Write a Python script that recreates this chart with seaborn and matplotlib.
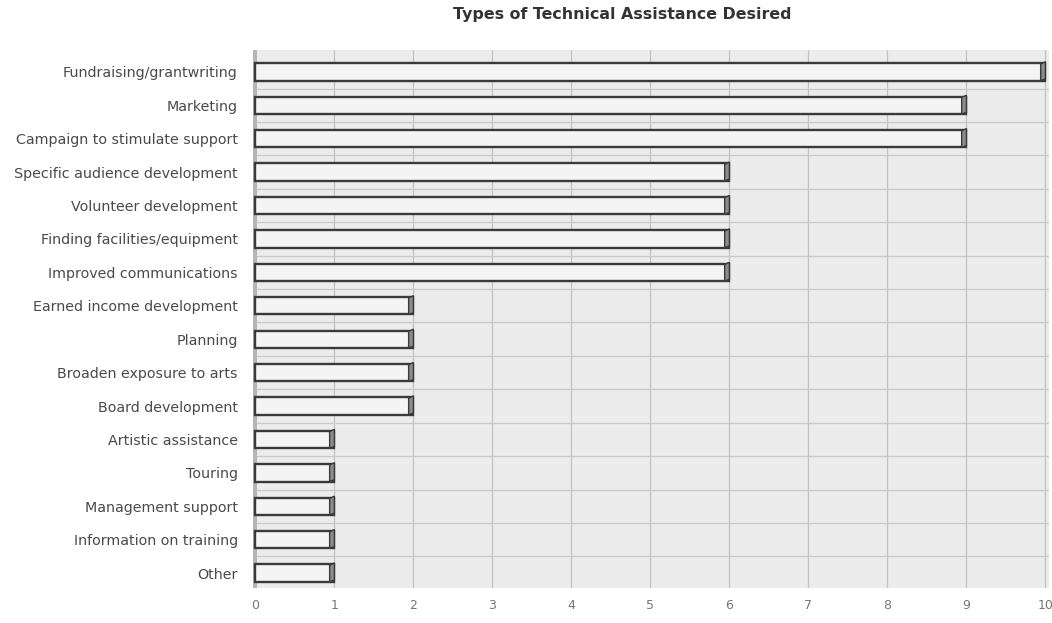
import matplotlib
matplotlib.use("Agg")
import matplotlib.pyplot as plt
import seaborn as sns
import pandas as pd
from matplotlib.patches import Polygon

categories = [
    "Fundraising/grantwriting",
    "Marketing",
    "Campaign to stimulate support",
    "Specific audience development",
    "Volunteer development",
    "Finding facilities/equipment",
    "Improved communications",
    "Earned income development",
    "Planning",
    "Broaden exposure to arts",
    "Board development",
    "Artistic assistance",
    "Touring",
    "Management support",
    "Information on training",
    "Other",
]
counts = [10, 9, 9, 6, 6, 6, 6, 2, 2, 2, 2, 1, 1, 1, 1, 1]
x_ticks = [0, 1, 2, 3, 4, 5, 6, 7, 8, 9, 10]

df = pd.DataFrame({"category": categories, "count": counts})

sns.set_style("white")
plt.rcParams["font.family"] = ["DejaVu Sans"]

fig = plt.figure(figsize=(10.52, 6.23), dpi=100)
ax = fig.add_axes([0.2405, 0.056, 0.757, 0.864])
ax.set_facecolor("#ececec")

sns.barplot(data=df, y="category", x="count", orient="h", order=categories,
            color="#f4f4f4", edgecolor="#3a3a3a", linewidth=1.7,
            width=0.52, saturation=1, ax=ax, zorder=3)
bars = list(ax.containers[0])

ax.set_xlim(-0.03, 10.05)
ax.set_ylim(15.45, -0.66)

# grid: vertical lines at each unit, horizontal separators between rows
for t in x_ticks:
    ax.axvline(t, color="#c2c2c2", lw=0.9, zorder=1)
for i in range(len(categories)):
    ax.axhline(i + 0.5, color="#c9c9c9", lw=0.9, zorder=1)
ax.axvspan(-0.03, 0.02, color="#b5b5b5", zorder=2, lw=0)

# shaded end-caps give each bar a shallow 3D depth
for p in bars:
    x1 = p.get_x() + p.get_width()
    y0 = p.get_y()
    h = p.get_height()
    d = 0.06
    cap = Polygon([(x1 - d, y0 + h * 0.05), (x1, y0 - h * 0.08), (x1, y0 + h * 0.9),
                   (x1 - d, y0 + h)], closed=True, facecolor="#8c8c8c",
                  edgecolor="#3a3a3a", lw=1.0, zorder=4)
    ax.add_patch(cap)

ax.set_xticks(x_ticks)
ax.set_xticklabels([str(t) for t in x_ticks], color="#777777", fontsize=9)
ax.tick_params(axis="y", labelsize=10.3, labelcolor="#4a4a4a", length=0, pad=11)
ax.tick_params(axis="x", length=0, pad=8)
ax.set_xlabel("")
ax.set_ylabel("")
for s in ax.spines.values():
    s.set_visible(False)

fig.text(622 / 1052, 1 - 15 / 623, "Types of Technical Assistance Desired",
         ha="center", va="center", fontsize=11.4, fontweight="semibold", color="#333333")

fig.savefig("out.png", dpi=100, facecolor="white")
